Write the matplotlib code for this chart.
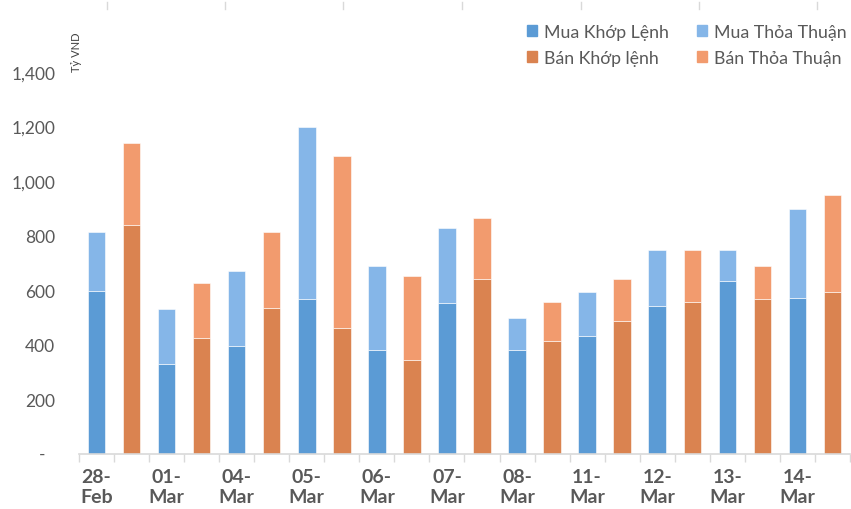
import matplotlib
matplotlib.use("Agg")
import matplotlib.pyplot as plt
from matplotlib.lines import Line2D
from matplotlib.patches import Patch

plt.rcParams['font.family'] = ['Lato', 'Noto Sans', 'DejaVu Sans']

# data (ty VND)
dates = ['28-\nFeb', '01-\nMar', '04-\nMar', '05-\nMar', '06-\nMar', '07-\nMar',
         '08-\nMar', '11-\nMar', '12-\nMar', '13-\nMar', '14-\nMar']
mua_khop = [598, 330, 395, 567, 381, 553, 381, 431, 543, 633, 573]
mua_tt = [217, 202, 277, 631, 308, 277, 116, 161, 206, 116, 326]
ban_khop = [838, 426, 537, 461, 345, 643, 415, 487, 557, 567, 592]
ban_tt = [303, 202, 277, 630, 308, 222, 142, 156, 192, 121, 358]

c_mk = '#5B9BD5'
c_mt = '#85B6E8'
c_bk = '#DA8350'
c_bt = '#F29B6E'
grey = '#595959'

fig = plt.figure(figsize=(8.51, 5.10), dpi=100)
ax = fig.add_axes([0.0928, 0.1078, 0.9060, 0.7490])

n = len(dates)
x_mua = [2 * i for i in range(n)]
x_ban = [2 * i + 1 for i in range(n)]
w = 0.5
kw = dict(width=w, edgecolor='white', linewidth=0.4)

ax.bar(x_mua, mua_khop, color=c_mk, **kw)
ax.bar(x_mua, mua_tt, bottom=mua_khop, color=c_mt, **kw)
ax.bar(x_ban, ban_khop, color=c_bk, **kw)
ax.bar(x_ban, ban_tt, bottom=ban_khop, color=c_bt, **kw)

ax.set_xlim(-0.5, 2 * n - 0.5)
ax.set_ylim(0, 1400)

# y axis
yt = [200, 400, 600, 800, 1000, 1200, 1400]
ax.set_yticks(yt)
ax.set_yticklabels([f'{v:,}' for v in yt])
ax.tick_params(axis='y', length=0, pad=17, labelsize=12.5, labelcolor=grey)
ax.annotate('-', xy=(0, 0), xycoords=('axes fraction', 'data'),
            xytext=(-37, 0), textcoords='offset pixels',
            ha='center', va='center', fontsize=12.5, color=grey)

# x axis
ax.set_xticks(x_mua)
ax.set_xticklabels(dates, fontsize=14, color=grey, fontweight='bold',
                   linespacing=1.25)
ax.set_xticks([i - 0.5 for i in range(2 * n + 1)], minor=True)
ax.tick_params(axis='x', which='major', length=0, pad=10)
ax.tick_params(axis='x', which='minor', length=6, width=1, color='#D9D9D9',
               direction='out')

for s in ['top', 'right', 'left']:
    ax.spines[s].set_visible(False)
ax.spines['bottom'].set_color('#D9D9D9')
ax.spines['bottom'].set_linewidth(1.2)

# unit label
fig.text(77 / 851, 1 - 72 / 510, 'Tỷ VND', rotation=90, ha='center',
         va='bottom', fontsize=8, color='#404040')

# legend
handles = [Patch(color=c_mk), Patch(color=c_bk), Patch(color=c_mt), Patch(color=c_bt)]
labels = ['Mua Khớp Lệnh', 'Bán Khớp lệnh', 'Mua Thỏa Thuận', 'Bán Thỏa Thuận']
fig.legend(handles, labels, ncol=2, loc='upper left',
           bbox_to_anchor=(511 / 851, 1 - 9 / 510), frameon=False,
           fontsize=12.8, labelcolor=grey, handlelength=0.55, handleheight=0.55,
           handletextpad=0.4, columnspacing=1.6, labelspacing=0.55)

# little marks at the very top edge
for px in [107, 225, 343, 462, 581, 699, 817]:
    fig.add_artist(Line2D([px / 851, px / 851], [1 - 3 / 510, 1 - 10 / 510],
                          color='#D9D9D9', linewidth=1))

fig.savefig('out.png', dpi=100)
